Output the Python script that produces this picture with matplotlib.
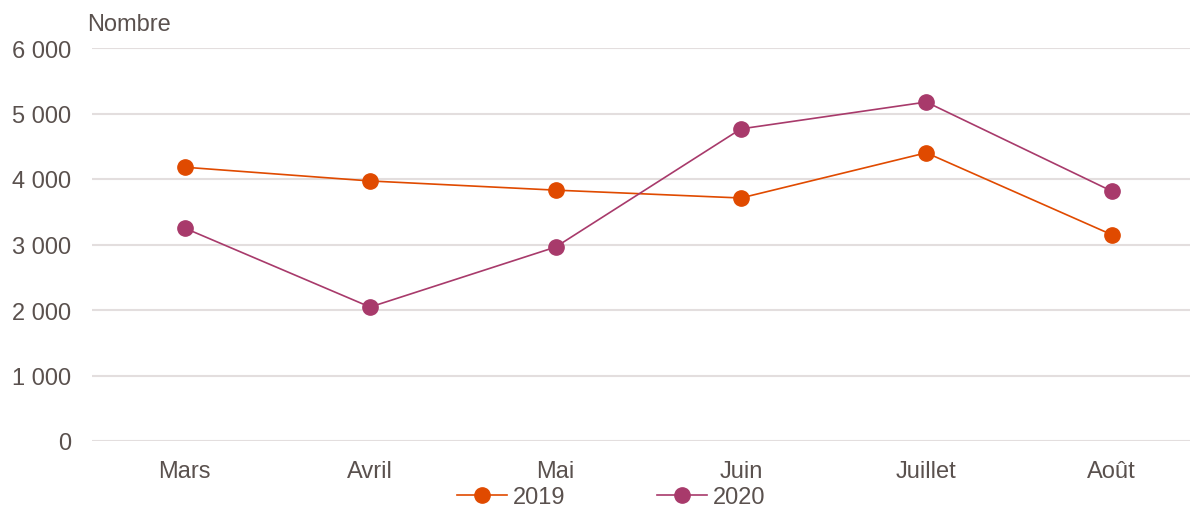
import numpy as np
import matplotlib.pyplot as plt
from matplotlib.ticker import FuncFormatter

plt.rcParams['font.family'] = ['Liberation Sans', 'DejaVu Sans']

mois = ['Mars', 'Avril', 'Mai', 'Juin', 'Juillet', 'Août']
v2019 = [4180, 3970, 3830, 3710, 4400, 3150]
v2020 = [3250, 2045, 2960, 4765, 5175, 3815]

txt = '#5a514e'
c2019 = '#E04A00'
c2020 = '#A83A6B'

fig = plt.figure(figsize=(11.93, 5.10), dpi=100)
ax = fig.add_axes([92/1193, 68/510, (1190-92)/1193, (442-49)/510])

x = np.arange(len(mois))
ax.plot(x, v2019, color=c2019, lw=1.2, marker='o', ms=11, label='2019', zorder=3)
ax.plot(x, v2020, color=c2020, lw=1.2, marker='o', ms=11, label='2020', zorder=3)

ax.set_xlim(-0.5, -0.5 + (1190-92)/185.4)
ax.set_ylim(0, 6000)
ax.set_yticks(np.arange(0, 6001, 1000))
ax.yaxis.set_major_formatter(FuncFormatter(lambda v, p: '{:,}'.format(int(v)).replace(',', ' ')))
ax.set_xticks(x)
ax.set_xticklabels(mois)
ax.grid(axis='y', color='#e3dede', lw=1.5, zorder=0)
for s in ax.spines.values():
    s.set_visible(False)
ax.tick_params(length=0, labelsize=17, labelcolor=txt)
ax.tick_params(axis='y', pad=15)
ax.tick_params(axis='x', pad=14)

ax.text(-0.004, 1.046, 'Nombre', transform=ax.transAxes, fontsize=17, color=txt, ha='left', va='baseline')

leg = ax.legend(loc='center', bbox_to_anchor=(0.4727, -0.1425), ncol=2,
                frameon=False, fontsize=17, handlelength=2.1, columnspacing=3.9, handletextpad=0.25)
for t in leg.get_texts():
    t.set_color(txt)

fig.savefig('out.png', dpi=100)
